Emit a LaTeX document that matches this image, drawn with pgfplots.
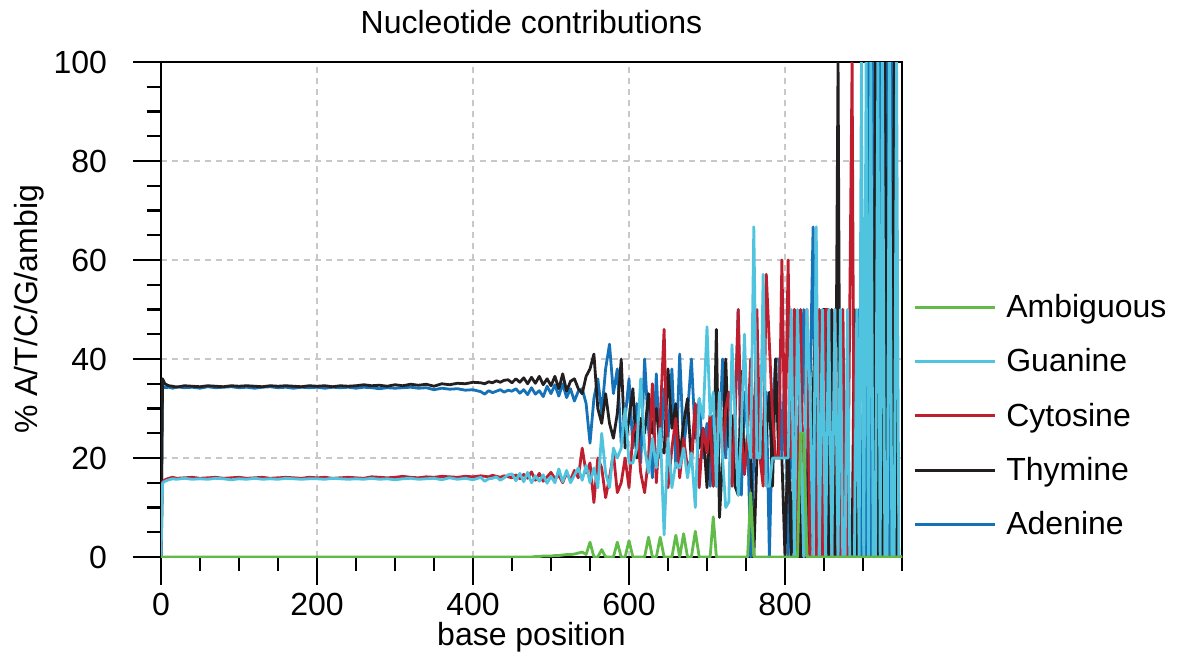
\documentclass[border=0pt]{standalone}
\usepackage{fontspec}
\setmainfont{Liberation Sans}
\usepackage{pgfplots}
\usepackage{pgfplotstable}
\pgfplotsset{compat=1.18}
\definecolor{cAmb}{RGB}{96,187,72}
\definecolor{cGua}{RGB}{80,195,222}
\definecolor{cCyt}{RGB}{190,30,45}
\definecolor{cThy}{RGB}{35,31,32}
\definecolor{cAde}{RGB}{22,114,184}
\definecolor{cGrid}{RGB}{200,200,200}
\pgfplotstableread{
x A T C G N
0 0 0 0 0 0
2 34.6 36.0 15.2 14.9 0
5 34.2 35.0 15.6 15.3 0
10 34.3 34.6 15.9 15.6 0
15 34.1 34.5 16.1 15.8 0
20 34.4 34.3 15.9 15.7 0
30 34.2 34.6 16.0 15.9 0
40 34.3 34.5 16.1 15.7 0
50 34.1 34.4 15.9 15.8 0
60 34.4 34.6 16.0 15.7 0
70 34.2 34.5 16.1 15.9 0
80 34.3 34.4 15.9 15.8 0
90 34.4 34.6 16.0 15.6 0
100 34.2 34.5 16.1 15.8 0
110 34.3 34.6 15.9 15.7 0
120 34.1 34.5 16.0 15.9 0
130 34.3 34.4 16.1 15.7 0
140 34.4 34.6 15.9 15.8 0
150 34.2 34.5 16.0 15.7 0
160 34.3 34.6 16.1 15.9 0
170 34.1 34.5 16.0 15.8 0
180 34.3 34.4 15.9 15.7 0
190 34.2 34.6 16.1 15.8 0
200 34.3 34.5 16.0 15.8 0
210 34.1 34.6 16.1 15.7 0
220 34.3 34.4 15.9 15.9 0
230 34.2 34.6 16.0 15.8 0
240 34.3 34.5 16.1 15.7 0
250 34.1 34.6 16.0 15.8 0
260 34.3 34.8 15.9 15.7 0
270 34.2 34.6 16.2 15.9 0
280 34.0 34.7 16.1 15.7 0
290 34.2 34.5 16.0 15.8 0
300 34.1 34.8 16.1 15.6 0
310 34.2 34.6 16.3 15.8 0
320 34.3 34.9 16.1 15.9 0
330 34.1 34.7 16.0 15.7 0
340 34.2 34.9 16.2 15.8 0
350 33.8 34.5 16.1 15.9 0
360 34.1 35.0 16.3 15.6 0
370 33.9 34.8 16.2 16.0 0
380 34.0 35.1 16.1 15.7 0
390 33.7 35.0 16.3 15.9 0
400 33.8 35.3 16.2 15.6 0
410 33.4 35.2 16.4 16.1 0
415 32.9 35.0 16.3 15.3 0
420 33.6 35.4 16.2 15.8 0
425 33.2 35.2 16.5 15.9 0
430 33.5 35.6 16.3 16.2 0
435 33.8 35.3 16.1 15.5 0
440 33.3 35.7 16.4 16.0 0
445 33.7 35.8 16.2 16.6 0
450 33.5 35.2 16.0 16.8 0
455 34.0 36.0 16.6 15.4 0
460 33.1 35.3 15.8 16.9 0
465 33.8 36.2 16.7 15.2 0
470 32.8 35.0 15.9 17.1 0
475 34.2 36.3 17.2 15.0 0
480 32.9 35.1 15.5 16.4 0.1
485 33.6 36.5 16.9 15.3 0.1
490 32.4 34.8 15.3 16.6 0.2
495 34.5 36.0 16.2 14.9 0.2
500 33.0 34.6 17.1 16.3 0.2
505 34.8 36.5 15.8 15.0 0.3
510 32.5 34.0 16.5 17.8 0.3
515 35.0 37.0 15.0 15.2 0.4
520 32.2 33.5 17.0 17.5 0.5
525 34.0 35.5 15.5 15.0 0.5
530 31.5 36.0 17.5 16.5 0.6
535 33.5 34.0 16.0 18.0 0.8
540 34.0 33.0 22.0 15.5 1.0
545 31.0 36.5 17.0 18.5 0.5
550 23.0 38.0 19.0 15.0 3.0
555 32.0 41.0 11.0 18.0 0
560 36.0 30.0 20.0 14.0 0
565 29.0 27.0 18.0 25.0 1.5
570 38.0 33.0 12.0 17.0 0
575 43.0 27.0 16.0 14.0 0
580 33.0 24.0 21.0 22.0 0
585 38.0 29.0 13.0 20.0 3.0
590 23.0 40.0 15.0 22.0 0
595 28.0 22.0 20.0 30.0 0
600 36.0 28.0 14.0 19.0 3.3
605 22.0 34.0 25.0 19.0 0
610 31.0 20.0 27.0 22.0 0
615 19.0 28.0 17.0 36.0 0
620 40.0 25.0 13.0 22.0 0
625 26.0 33.0 20.0 17.0 4.0
630 16.0 25.0 35.0 24.0 0
635 37.0 30.0 15.0 18.0 0
640 20.0 22.0 28.0 26.0 4.0
645 34.0 21.0 46.0 4.5 0
650 24.0 38.0 14.0 24.0 0
655 38.0 26.0 22.0 14.0 0
660 18.0 31.0 28.0 19.0 4.4
665 41.0 20.0 16.0 18.0 0
670 22.0 27.0 24.0 22.0 4.7
675 29.0 32.0 18.0 16.0 0
680 40.0 19.0 20.0 21.0 0
685 24.0 30.0 31.0 10.0 5.2
690 32.0 22.0 14.0 32.0 0
695 20.0 26.0 26.0 28.0 0
700 27.0 14.0 21.0 46.5 0
704 14.3 28.6 28.6 28.6 0
708 28.6 14.3 14.3 33.3 8.1
712 14.3 46.0 25.0 14.3 0
716 25.0 8.0 33.3 33.3 0
720 40.0 20.0 20.0 20.0 0
724 20.0 40.0 30.0 10.0 0
728 33.3 22.2 33.3 11.1 0
732 14.3 28.6 14.3 42.9 0
736 28.6 14.3 28.6 28.6 0
740 50.0 12.5 50.0 12.5 0
744 12.5 37.5 25.0 25.0 0
748 33.3 16.7 16.7 45.0 0
752 25.0 25.0 25.0 25.0 0
756 0 20.0 40.0 20.0 13.0
760 20.0 0 20.0 66.7 0
764 40.0 20.0 50.0 20.0 0
768 20.0 33.3 20.0 20.0 0
772 16.7 16.7 14.3 57.1 0
776 33.3 25.0 57.1 14.3 0
780 0 33.3 42.9 14.3 0
784 28.6 14.3 28.6 20.0 0
788 40.0 40.0 20.0 20.0 0
792 40.0 20.0 20.0 20.0 0
796 20.0 20.0 60.0 20.0 0
800 40.0 0 20.0 20.0 0
804 0 25.0 60.0 20.0 0
808 25.0 0 20.0 50.0 0
812 50.0 25.0 50.0 0 0
816 0 25.0 0 50.0 0
820 25.0 0 50.0 25.0 25.0
824 50.0 25.0 0 0 25.0
828 0 25.0 50.0 50.0 0
832 33.3 0 0 33.3 0
836 66.7 33.3 0 0 0
840 0 50.0 0 66.7 0
844 50.0 0 50.0 0 0
848 0 50.0 0 50.0 0
852 50.0 50.0 50.0 0 0
856 0 0 50.0 50.0 0
860 50.0 50.0 0 0 0
864 0 0 50.0 50.0 0
868 0 100 0 0 0
871 50.0 0 0 50.0 0
874 0 50.0 50.0 0 0
877 0 0 0 0 0
880 0 0 0 50.0 0
883 0 0 50.0 0 0
886 0 0 100 0 0
889 0 50.0 0 0 0
892 0 0 0 50.0 0
895 50.0 0 0 0 0
898 0 0 0 100 0
901 0 0 0 0 0
904 0 0 0 100 0
907 100 0 0 0 0
910 0 0 0 100 0
913 100 0 0 0 0
916 0 100 0 0 0
919 0 0 0 100 0
922 100 0 0 0 0
925 0 0 0 100 0
928 0 100 0 0 0
931 100 0 0 0 0
934 0 0 0 100 0
937 100 0 0 0 0
940 0 100 0 0 0
943 0 0 0 100 0
946 0 0 0 0 0
950 0 0 0 0 0
}\datatable
\begin{document}
\begin{tikzpicture}
\useasboundingbox (0,0) rectangle (590.5pt,330.5pt);
\begin{axis}[
  at={(80.5pt,52pt)}, anchor=south west,
  scale only axis, width=370.5pt, height=247.5pt,
  xmin=0, xmax=950, ymin=0, ymax=100,
  xtick={0,200,400,600,800}, ytick={0,20,40,60,80,100},
  minor xtick={0,50,...,950}, minor ytick={0,5,...,100},
  xtick pos=left, ytick pos=left, tick align=outside,
  major tick length=14pt, minor tick length=7pt,
  every tick/.style={black, line width=1.2pt},
  axis line style={line width=1.2pt, black},
  grid=major,
  major grid style={cGrid, line width=1pt, dash pattern=on 3pt off 2.5pt},
  /pgf/number format/assume math mode=true,
  tick label style={font=\fontsize{16}{19}\selectfont},
  xticklabel style={anchor=north, yshift=-0.5pt},
  yticklabel style={anchor=east, xshift=-9.5pt},
  title={Nucleotide contributions},
  title style={font=\fontsize{16}{19}\selectfont, at={(0.5,1)}, anchor=center, yshift=14pt},
  xlabel={base position},
  xlabel style={font=\fontsize{16}{19}\selectfont, at={(0.5,0)}, anchor=base, yshift=-44pt},
  ylabel={\% A/T/C/G/ambig},
  ylabel style={font=\fontsize{16}{19}\selectfont, at={(0,0.5)}, anchor=center, yshift=66pt},
  reverse legend,
  legend cell align=left,
  legend style={draw=none, fill=none, at={(1,0.285)}, anchor=west, xshift=2.5pt,
    font=\fontsize{16}{19}\selectfont, row sep=12pt,
    nodes={inner sep=1pt}},
  legend image code/.code={\draw[#1, line width=1.5pt] (0pt,0pt) -- (40pt,0pt); \path (44pt,0pt);},
  every axis plot/.append style={line width=1.4pt, line join=round},
]
\addplot[cAde, no markers] table[x=x, y=A] {\datatable};
\addplot[cThy, no markers] table[x=x, y=T] {\datatable};
\addplot[cCyt, no markers] table[x=x, y=C] {\datatable};
\addplot[cGua, no markers] table[x=x, y=G] {\datatable};
\addplot[cAmb, no markers] table[x=x, y=N] {\datatable};
\legend{Adenine, Thymine, Cytosine, Guanine, Ambiguous}
\end{axis}
\end{tikzpicture}
\end{document}
